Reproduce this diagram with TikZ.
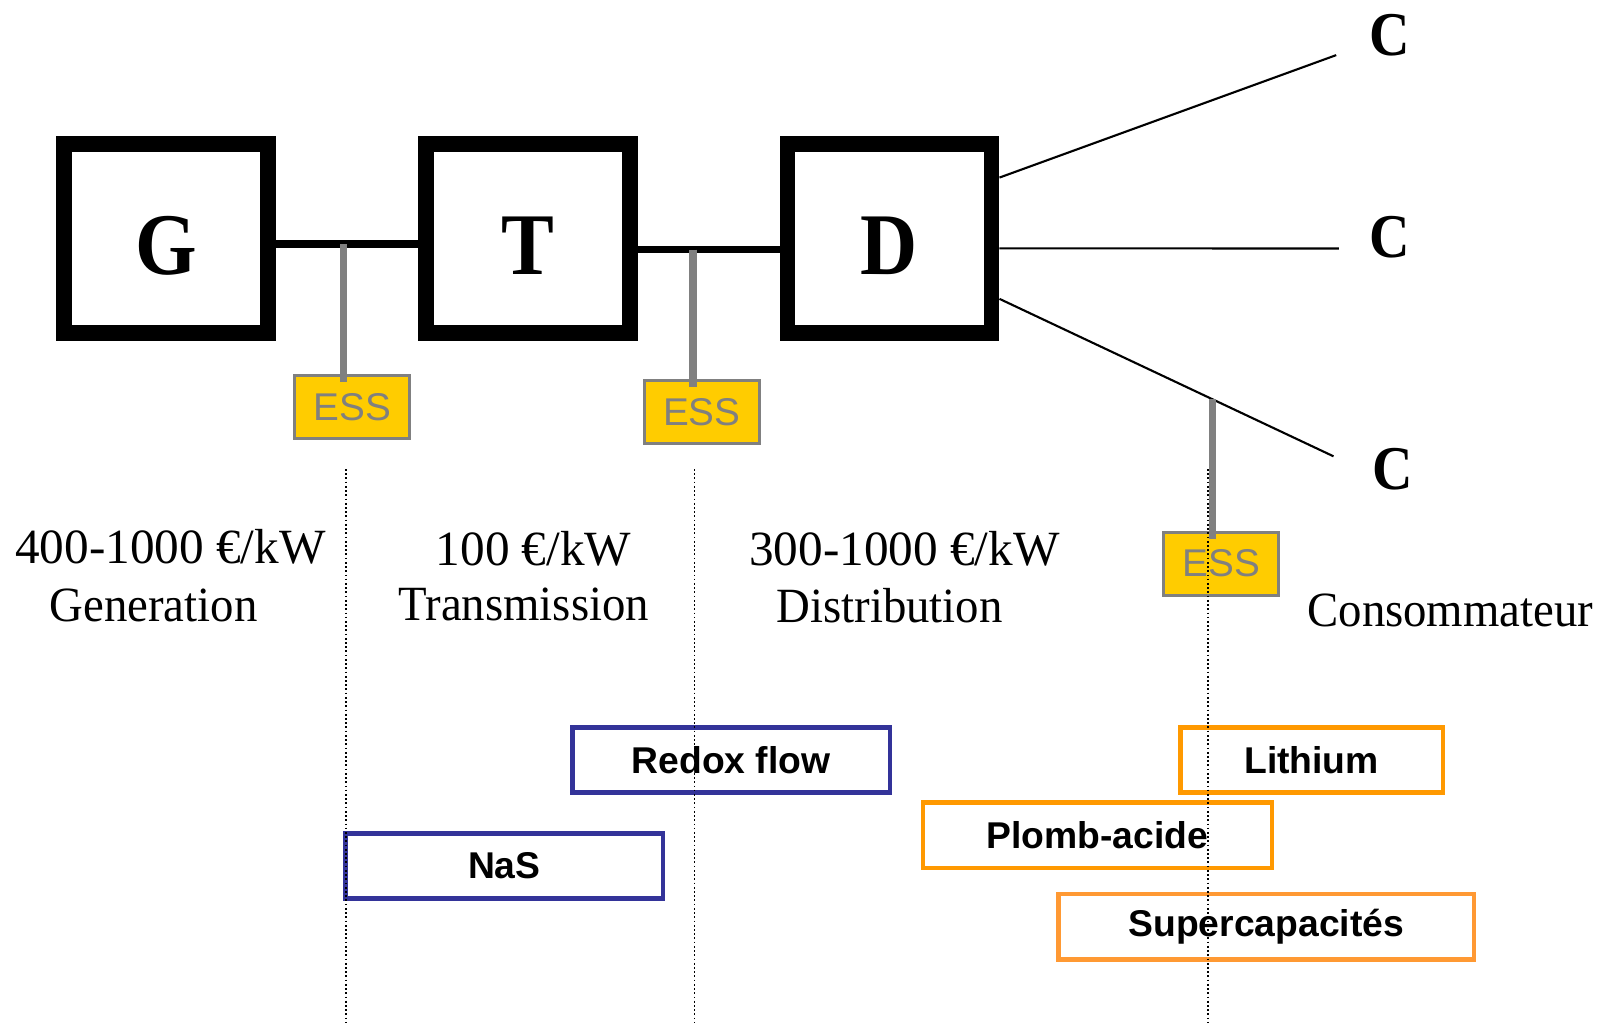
\documentclass[tikz,border=0pt]{standalone}
\usepackage{fontspec}
\setmainfont{Liberation Serif}[FakeStretch=0.95]
\setsansfont{Liberation Sans}
\newfontfamily\stagefont{Liberation Serif}[FakeStretch=0.9]
\newfontfamily\costfont{Liberation Serif}
\usetikzlibrary{calc}
\definecolor{essfill}{HTML}{FFCC00}
\definecolor{essgray}{HTML}{808080}
\definecolor{flowblue}{HTML}{333399}
\definecolor{batorange}{HTML}{FF9900}
\definecolor{caporange}{HTML}{FF9933}
\begin{document}
\begin{tikzpicture}[x=0.01cm,y=-0.01cm,
  stage/.style={draw,line width=4.5pt,minimum width=2.04cm,minimum height=1.885cm,inner sep=0pt,
    text height=20.5pt,text depth=0pt,font=\stagefont\bfseries\fontsize{25}{25}\selectfont},
  ess/.style={draw=essgray,fill=essfill,line width=0.8pt,minimum width=1.15cm,minimum height=0.63cm,
    inner sep=0pt,text=essgray,font=\sffamily\fontsize{11}{11}\selectfont},
  bus/.style={line width=2.2pt},
  stem/.style={draw=essgray,line width=2pt},
  feeder/.style={line width=0.6pt},
  cons/.style={inner sep=0pt,font=\stagefont\bfseries\fontsize{17.7}{17.7}\selectfont},
  lbl/.style={anchor=base,inner sep=0pt,font=\fontsize{14}{17}\selectfont},
  cost/.style={lbl,font=\costfont\fontsize{14}{17}\selectfont},
  tech/.style={line width=1.3pt,minimum height=0.654cm,inner sep=0pt,
    font=\sffamily\bfseries\fontsize{10.6}{10.6}\selectfont},
  guide/.style={line width=0.5pt,dash pattern=on 0.5pt off 0.7pt}]
\useasboundingbox (0,0) rectangle (1606,1023);
% chain
\node[stage] (G) at (166.3,238.3) {G};
\node[stage] (T) at (528,238.3) {T};
\node[stage] (D) at (889.5,238.3) {D};
\coordinate (j1) at (343.9,244);
\coordinate (j2) at (693,249.5);
\draw[bus] (G.east |- j1) -- (T.west |- j1);
\draw[bus] (T.east |- j2) -- (D.west |- j2);
% consumers
\coordinate (c1) at (1336.2,55.1);
\coordinate (c2) at (1338.9,248.5);
\coordinate (c3) at (1333.5,456.3);
\draw[feeder] ([yshift=6.07mm]D.east) -- (c1);
\draw[feeder] ([yshift=-1mm]D.east) -- (c2);
\draw[feeder] ([yshift=-6.05mm]D.east) -- (c3) coordinate[pos=0.638] (j3);
\node[cons] (C1) at (1390,34.7) {C};
\node[cons] (C2) at (1390,236.7) {C};
\node[cons] (C3) at (1392.7,469.4) {C};
% storage
\node[ess] (E1) at (352.3,407) {ESS};
\node[ess] (E2) at (701.8,411.7) {ESS};
\node[ess] (E3) at (1221.3,563.6) {ESS};
\draw[stem] (j1) -- ($(j1 |- E1.north)+(0,8)$);
\draw[stem] (j2) -- ($(j2 |- E2.north)+(0,8)$);
\draw[stem] (j3) -- ($(j3 |- E3.north)+(0,8)$);
% costs
\node[cost] (cost1) at (170.5,563.3) {400-1000 €/kW};
\node[lbl] (sec1) at (153.6,621.7) {Generation};
\node[cost] (cost2) at (533.6,565) {100 €/kW};
\node[lbl] (sec2) at (523.9,620.7) {Transmission};
\node[cost] (cost3) at (904.4,565) {300-1000 €/kW};
\node[lbl] (sec3) at (889.5,622.7) {Distribution};
\node[lbl] (sec4) at (1450.3,626) {Consommateur};
% technologies
\node[tech,draw=flowblue,minimum width=3.174cm] (redox) at (731,760) {Redox flow};
\node[tech,draw=flowblue,minimum width=3.174cm] (nas) at (504.3,866) {NaS};
\node[tech,draw=batorange,minimum width=2.624cm] (lith) at (1311.5,760) {Lithium};
\node[tech,draw=batorange,minimum width=3.49cm] (plomb) at (1097.4,835.4) {Plomb-acide};
\node[tech,draw=caporange,minimum width=4.15cm] (scap) at (1266.2,926.7) {Supercapacités};
\foreach \n/\x in {1/346.1,2/694.6,3/1208.2}{
  \coordinate (gt\n) at (\x,469);
  \coordinate (gb\n) at (\x,1023);
  \draw[guide] (gt\n) -- (gb\n);
}
\end{tikzpicture}
\end{document}
